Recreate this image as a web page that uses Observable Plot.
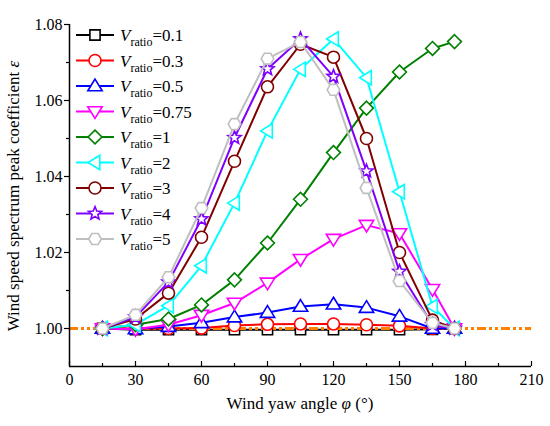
<!DOCTYPE html>
<html><head><meta charset="utf-8">
<script src="https://cdn.jsdelivr.net/npm/d3@7"></script>
<script src="https://cdn.jsdelivr.net/npm/@observablehq/plot@0.6"></script>
<style>
body{margin:0;background:#fff}
#chart{position:relative;width:550px;height:426px}
</style>
</head><body><div id="chart"></div>
<script>
// ---- data ----
const angles = [15, 30, 45, 60, 75, 90, 105, 120, 135, 150, 165, 175];
const ratios = ["0.1", "0.3", "0.5", "0.75", "1", "2", "3", "4", "5"];
const v01  = [1.000, 0.9997, 0.9997, 0.9997, 0.9997, 0.9997, 0.9997, 0.9997, 0.9997, 0.9997, 0.9998, 1.000];
const v03  = [1.000, 1.0000, 1.0000, 1.0001, 1.0008, 1.0011, 1.0012, 1.0012, 1.0010, 1.0007, 1.0000, 1.000];
const v05  = [1.000, 0.9999, 1.0005, 1.0015, 1.0030, 1.0042, 1.0058, 1.0064, 1.0055, 1.0032, 1.0000, 1.000];
const v075 = [1.000, 0.9998, 1.0010, 1.0035, 1.0067, 1.0120, 1.0182, 1.0235, 1.0272, 1.0250, 1.0103, 1.000];
const v1   = [1.000, 1.0010, 1.0025, 1.0062, 1.0128, 1.0225, 1.0340, 1.0463, 1.0580, 1.0675, 1.0737, 1.0755];
const v2   = [1.000, 1.0010, 1.0060, 1.0165, 1.0330, 1.0520, 1.0682, 1.0762, 1.0660, 1.0360, 1.0058, 1.000];
const v3   = [1.000, 1.0025, 1.0093, 1.0240, 1.0440, 1.0636, 1.0748, 1.0714, 1.0500, 1.0200, 1.0022, 1.000];
const v4   = [1.000, 1.0030, 1.0122, 1.0288, 1.0502, 1.0683, 1.0762, 1.0663, 1.0414, 1.0150, 1.0010, 1.000];
const v5   = [1.000, 1.0036, 1.0135, 1.0317, 1.0538, 1.0710, 1.0754, 1.0628, 1.0370, 1.0125, 1.0015, 1.000];
const seriesValues = [v01, v03, v05, v075, v1, v2, v3, v4, v5];
const colors = ["#000000", "#ff0000", "#0000ff", "#ff00ff", "#008000", "#00ffff", "#800000", "#8000ff", "#bfbfbf"];
const xTicks = [0, 30, 60, 90, 120, 150, 180, 210];
const xMinorTicks = [15, 45, 75, 105, 135, 165, 195];
const yTicks = [1.00, 1.02, 1.04, 1.06, 1.08];
const yMinorTicks = [1.01, 1.03, 1.05, 1.07];
const reference = [{value: 1.0}];

// ---- custom symbols ----
const mk = f => ({draw(ctx, size) { const r = Math.sqrt(size / Math.PI); f(ctx, r); }});
const poly = (c, pts) => { c.moveTo(pts[0][0], pts[0][1]); for (let i = 1; i < pts.length; i++) c.lineTo(pts[i][0], pts[i][1]); c.closePath(); };
const sqr = mk((c, r) => { const s = r * 0.85; poly(c, [[-s, -s], [s, -s], [s, s], [-s, s]]); });
const circ = mk((c, r) => { c.moveTo(r, 0); c.arc(0, 0, r, 0, 2 * Math.PI); });
const triUp = mk((c, r) => poly(c, [[0, -r * 1.15], [r * 1.2, r * 0.8], [-r * 1.2, r * 0.8]]));
const triDown = mk((c, r) => poly(c, [[0, r * 1.15], [r * 1.2, -r * 0.8], [-r * 1.2, -r * 0.8]]));
const diam = mk((c, r) => poly(c, [[0, -r * 1.15], [r * 1.15, 0], [0, r * 1.15], [-r * 1.15, 0]]));
const triLeft = mk((c, r) => poly(c, [[-r * 1.15, 0], [r * 0.8, -r * 1.2], [r * 0.8, r * 1.2]]));
const star = mk((c, r) => { const p = []; for (let k = 0; k < 10; k++) { const a = -Math.PI / 2 + k * Math.PI / 5; const rr = k % 2 ? r * 0.5 : r * 1.15; p.push([rr * Math.cos(a), rr * Math.sin(a)]); } poly(c, p); });
const hex = mk((c, r) => { const p = []; for (let k = 0; k < 6; k++) { const a = k * Math.PI / 3; p.push([r * 1.05 * Math.cos(a), r * 1.05 * Math.sin(a)]); } poly(c, p); });
const symbols = [sqr, circ, triUp, triDown, diam, triLeft, circ, star, hex];

const serif = '"Liberation Serif", "Times New Roman", serif';
const R = 6;

const seriesMarks = [];
ratios.forEach((name, i) => {
  const rows = angles.map((a, j) => ({angle: a, value: seriesValues[i][j]}));
  seriesMarks.push(Plot.line(rows, {x: "angle", y: "value", stroke: colors[i], strokeWidth: 2}));
  seriesMarks.push(Plot.dot(rows, {x: "angle", y: "value", symbol: symbols[i], r: R, stroke: colors[i], fill: "white", strokeWidth: 1.6}));
  if (i === 0) {
    seriesMarks.push(Plot.ruleY(reference, {y: "value", stroke: "#ff8000", strokeWidth: 3, strokeDasharray: "9,3,3,3,3,3"}));
  }
});

const plot = Plot.plot({
  width: 550,
  height: 426,
  marginLeft: 69,
  marginRight: 19,
  marginTop: 24,
  marginBottom: 60,
  style: {fontFamily: serif, fontSize: "16px", color: "black", background: "white"},
  x: {domain: [0, 210]},
  y: {domain: [0.99, 1.08]},
  marks: [
    ...seriesMarks,
    Plot.axisX({ticks: xTicks, tickSize: 0, tickPadding: 7, fontSize: 16, label: null}),
    Plot.axisX({ticks: xTicks, tickSize: -5, text: null, label: null, strokeWidth: 1.2}),
    Plot.axisX({ticks: xMinorTicks, tickSize: -3, text: null, label: null, strokeWidth: 1.2}),
    Plot.axisY({ticks: yTicks, tickSize: 5, tickPadding: 2, tickFormat: d3.format(".2f"), fontSize: 16, label: null, strokeWidth: 1.2}),
    Plot.axisY({ticks: yMinorTicks, tickSize: 3, text: null, label: null, strokeWidth: 1.2}),
    Plot.ruleX([0], {strokeWidth: 1.5}),
    Plot.ruleY([0.99], {strokeWidth: 1.5})
  ]
});
document.getElementById("chart").appendChild(plot);

// ---- axis titles ----
const svg = d3.select(plot);
const xl = svg.append("text").attr("x", 300).attr("y", 409).attr("text-anchor", "middle")
  .attr("font-family", serif).attr("font-size", 17).attr("fill", "black");
xl.append("tspan").text("Wind yaw angle ");
xl.append("tspan").attr("font-style", "italic").text("φ");
xl.append("tspan").text(" (°)");
const yl = svg.append("text").attr("transform", "translate(19,196) rotate(-90)").attr("text-anchor", "middle")
  .attr("font-family", serif).attr("font-size", 17).attr("fill", "black");
yl.append("tspan").text("Wind speed spectrum peak coefficient ");
yl.append("tspan").attr("font-style", "italic").text("ε");

// ---- legend ----
const lg = svg.append("g");
ratios.forEach((name, i) => {
  const cy = 35 + i * 25.5;
  const g = lg.append("g").attr("transform", `translate(0,${cy})`);
  g.append("line").attr("x1", 76).attr("x2", 114).attr("y1", 0).attr("y2", 0)
    .attr("stroke", colors[i]).attr("stroke-width", 2);
  g.append("path").attr("transform", "translate(95,0)")
    .attr("d", d3.symbol(symbols[i], Math.PI * R * R)())
    .attr("fill", "white").attr("stroke", colors[i]).attr("stroke-width", 1.6);
  const t = g.append("text").attr("x", 120).attr("y", 6).attr("text-anchor", "start")
    .attr("font-family", serif).attr("font-size", 17).attr("fill", "black");
  t.append("tspan").attr("font-style", "italic").text("V");
  t.append("tspan").attr("font-size", 12).attr("dy", 5).text("ratio");
  t.append("tspan").attr("dy", -5).text("=" + name);
});
</script>
</body></html>
